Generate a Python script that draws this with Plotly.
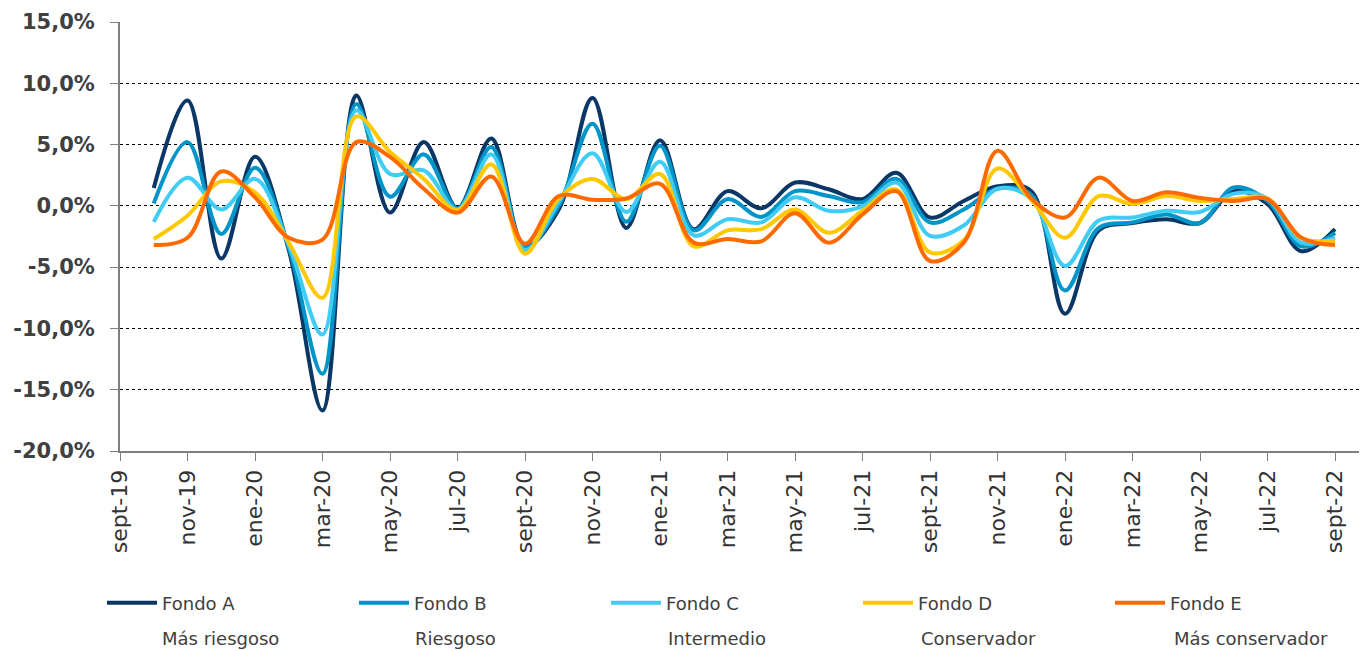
import plotly.graph_objects as go

months = ["oct-19", "nov-19", "dic-19", "ene-20", "feb-20", "mar-20", "abr-20", "may-20",
          "jun-20", "jul-20", "ago-20", "sept-20", "oct-20", "nov-20", "dic-20", "ene-21",
          "feb-21", "mar-21", "abr-21", "may-21", "jun-21", "jul-21", "ago-21", "sept-21",
          "oct-21", "nov-21", "dic-21", "ene-22", "feb-22", "mar-22", "abr-22", "may-22",
          "jun-22", "jul-22", "ago-22", "sept-22"]

fondo_a = [1.45, 8.6, -4.3, 4.0, -3.6, -16.7, 9.0, -0.55, 5.2, -0.2, 5.5, -3.3,
           -0.3, 8.8, -1.8, 5.35, -1.9, 1.2, -0.2, 1.9, 1.35, 0.55, 2.7, -0.95,
           0.4, 1.6, 1.2, -8.8, -2.0, -1.4, -1.1, -1.4, 1.2, 0.15, -3.7, -1.9]
fondo_b = [0.2, 5.2, -2.3, 3.1, -3.4, -13.7, 8.3, 0.75, 4.2, -0.2, 4.8, -3.4,
           0.0, 6.7, -1.3, 4.9, -2.0, 0.55, -0.9, 1.2, 0.8, 0.3, 2.2, -1.35,
           -0.3, 1.4, 0.9, -6.9, -1.8, -1.35, -0.7, -1.4, 1.5, 0.4, -3.3, -2.2]
fondo_c = [-1.3, 2.3, -0.3, 2.2, -3.2, -10.5, 7.8, 2.6, 2.9, -0.3, 4.2, -3.6,
           0.3, 4.3, -0.5, 3.6, -2.4, -1.1, -1.35, 0.7, -0.4, -0.05, 1.9, -2.45,
           -1.6, 1.4, 0.6, -4.9, -1.2, -0.95, -0.4, -0.5, 1.0, 0.6, -3.0, -2.6]
fondo_d = [-2.7, -0.8, 2.0, 1.1, -3.0, -7.5, 7.3, 4.4, 2.2, -0.35, 3.4, -3.9,
           0.6, 2.2, 0.55, 2.6, -3.3, -2.0, -1.9, -0.3, -2.2, -0.4, 1.35, -3.8,
           -2.8, 3.05, 0.5, -2.6, 0.8, 0.15, 0.8, 0.4, 0.55, 0.6, -2.6, -2.85]
fondo_e = [-3.2, -2.6, 2.8, 0.7, -2.6, -2.75, 5.2, 4.0, 1.4, -0.55, 2.4, -3.1,
           0.8, 0.5, 0.6, 1.8, -3.0, -2.7, -2.9, -0.6, -3.0, -0.7, 1.2, -4.5,
           -3.0, 4.5, 0.6, -0.95, 2.3, 0.4, 1.1, 0.65, 0.4, 0.55, -2.6, -3.2]

series_names = ["Fondo A", "Fondo B", "Fondo C", "Fondo D", "Fondo E"]
series_desc = ["Más riesgoso", "Riesgoso", "Intermedio", "Conservador", "Más conservador"]
series_colors = ["#0B3766", "#0095C8", "#40CCF4", "#FFC800", "#FF6A00"]
series_values = [fondo_a, fondo_b, fondo_c, fondo_d, fondo_e]

x_tick_labels = ["sept-19", "nov-19", "ene-20", "mar-20", "may-20", "jul-20", "sept-20",
                 "nov-20", "ene-21", "mar-21", "may-21", "jul-21", "sept-21", "nov-21",
                 "ene-22", "mar-22", "may-22", "jul-22", "sept-22"]
y_tick_vals = [-20, -15, -10, -5, 0, 5, 10, 15]
y_tick_labels = ["-20,0%", "-15,0%", "-10,0%", "-5,0%", "0,0%", "5,0%", "10,0%", "15,0%"]

# month index: sept-19 = 0, data starts at oct-19 = 1
x_vals = list(range(1, len(months) + 1))
x_tick_vals = list(range(0, 2 * len(x_tick_labels), 2))

# the page body adds an 8px margin; size the figure so it fills the window exactly
OFF = 8
W, H = 1367 - OFF, 651 - OFF
ML, MR, MT, MB = 120 - OFF, 0, 22 - OFF, 200
plot_w = W - ML - MR
plot_h = H - MT - MB

FONT = "DejaVu Sans"
TXT = "#404040"

fig = go.Figure()
for name, vals, col in zip(series_names, series_values, series_colors):
    fig.add_trace(go.Scatter(
        x=x_vals, y=vals, name=name, mode="lines",
        line=dict(color=col, width=4, shape="spline", smoothing=1.0),
        customdata=months, hovertemplate="%{customdata}: %{y:.1f}%<extra>" + name + "</extra>",
    ))

entry_step = 253      # pixel distance between legend entries
item_w = 50
legend_x0_px = 102 - OFF
legend_y_px = 603 - OFF
desc_y_px = 638 - OFF

fig.update_layout(
    width=W, height=H,
    margin=dict(l=ML, r=MR, t=MT, b=MB, pad=0, autoexpand=False),
    plot_bgcolor="white", paper_bgcolor="white",
    font=dict(family=FONT, color=TXT),
    showlegend=True,
    legend=dict(
        orientation="h",
        x=(legend_x0_px - ML) / plot_w, xanchor="left",
        y=(MT + plot_h - legend_y_px) / plot_h, yanchor="middle",
        entrywidth=entry_step - item_w - 16, entrywidthmode="pixels",
        itemwidth=item_w,
        font=dict(family=FONT, size=18, color=TXT),
        bgcolor="rgba(0,0,0,0)",
        tracegroupgap=0,
    ),
    xaxis=dict(
        range=[0, plot_w / 33.75],
        tickmode="array", tickvals=x_tick_vals, ticktext=x_tick_labels,
        tickangle=-90,
        tickfont=dict(family=FONT, size=22, color="#333333"),
        ticks="outside", ticklen=8, tickcolor="#7F7F7F", tickwidth=1,
        showline=True, linecolor="#7F7F7F", linewidth=2,
        showgrid=False, zeroline=False,
        ticklabelstandoff=0, automargin=False,
    ),
    yaxis=dict(
        range=[-20, 15],
        tickmode="array", tickvals=y_tick_vals, ticktext=y_tick_labels,
        tickfont=dict(family=FONT, size=21, color=TXT, weight="bold"),
        ticks="outside", ticklen=8, tickcolor="#7F7F7F", tickwidth=1,
        showline=True, linecolor="#7F7F7F", linewidth=2,
        showgrid=True, gridcolor="#000000", gridwidth=1, griddash="dot",
        zeroline=False,
        ticklabelstandoff=11, automargin=False,
    ),
)

for i, desc in enumerate(series_desc):
    fig.add_annotation(
        xref="paper", yref="paper",
        x=(legend_x0_px + 58 + i * entry_step - ML) / plot_w,
        y=(MT + plot_h - desc_y_px) / plot_h,
        xanchor="left", yanchor="middle",
        text=desc, showarrow=False,
        font=dict(family=FONT, size=18, color=TXT),
    )

fig.write_html("out.html")
